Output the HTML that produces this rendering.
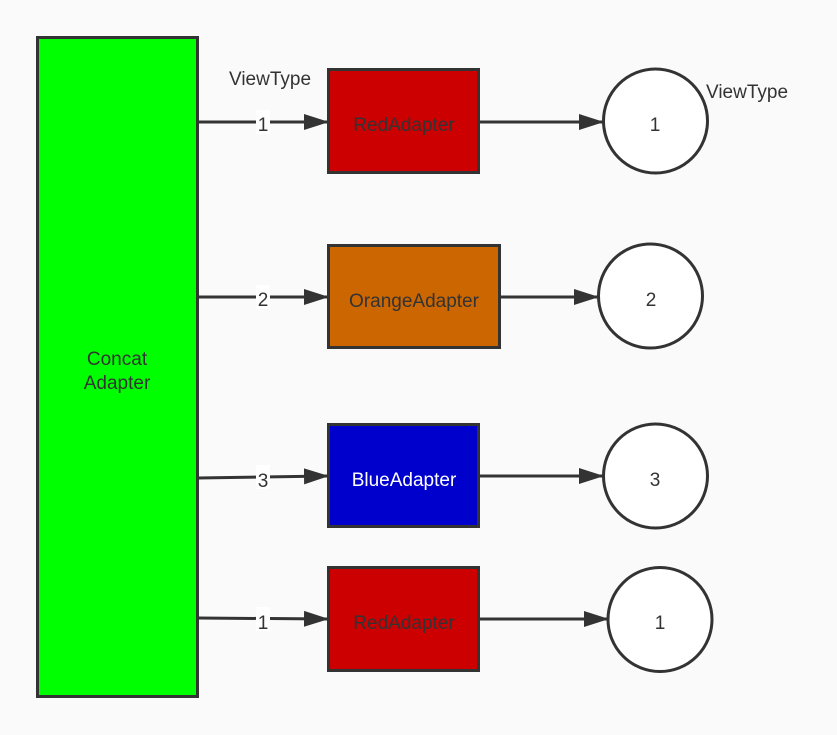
<!DOCTYPE html>
<html><head><meta charset="utf-8"><style>
html,body{margin:0;padding:0;background:#fafafa;}
svg{display:block;}
text{font-family:"Liberation Sans",sans-serif;font-size:19px;}
</style></head><body>
<svg width="837" height="735" viewBox="0 0 837 735">
<defs>
<marker id="a" markerWidth="26" markerHeight="18" refX="24" refY="9" orient="auto" markerUnits="userSpaceOnUse">
<path d="M0,1 L25,9 L0,17 Z" fill="#333"/>
</marker>
</defs>
<rect x="0" y="0" width="837" height="735" fill="#fafafa"/>
<rect x="37.5" y="37.5" width="160" height="659" fill="#00ff00" stroke="#333" stroke-width="3"/>
<text x="117" y="365" text-anchor="middle" fill="#333">Concat</text>
<text x="117" y="389" text-anchor="middle" fill="#333">Adapter</text>

<g stroke="#333" stroke-width="3" fill="none">
<line x1="198" y1="122" x2="328" y2="122" marker-end="url(#a)"/>
<line x1="198" y1="297" x2="328" y2="297" marker-end="url(#a)"/>
<line x1="198" y1="478" x2="328" y2="476" marker-end="url(#a)"/>
<line x1="198" y1="618" x2="328" y2="619" marker-end="url(#a)"/>
<line x1="479" y1="122" x2="603" y2="122" marker-end="url(#a)"/>
<line x1="500" y1="297" x2="598" y2="297" marker-end="url(#a)"/>
<line x1="479" y1="476" x2="603" y2="476" marker-end="url(#a)"/>
<line x1="479" y1="619" x2="608" y2="619" marker-end="url(#a)"/>
</g>

<rect x="256" y="110" width="14" height="24" fill="#fff"/>
<rect x="256" y="285" width="14" height="24" fill="#fff"/>
<rect x="256" y="465" width="14" height="24" fill="#fff"/>
<rect x="256" y="607" width="14" height="24" fill="#fff"/>
<text x="263" y="131" text-anchor="middle" fill="#333">1</text>
<text x="263" y="306" text-anchor="middle" fill="#333">2</text>
<text x="263" y="487" text-anchor="middle" fill="#333">3</text>
<text x="263" y="629" text-anchor="middle" fill="#333">1</text>

<text x="229" y="85" fill="#333">ViewType</text>
<text x="706" y="98" fill="#333">ViewType</text>

<g stroke="#333" stroke-width="3">
<rect x="328.5" y="69.5" width="150" height="103" fill="#cc0000"/>
<rect x="328.5" y="245.5" width="171" height="102" fill="#cc6600"/>
<rect x="328.5" y="424.5" width="150" height="102" fill="#0000cc"/>
<rect x="328.5" y="567.5" width="150" height="103" fill="#cc0000"/>
<circle cx="655.5" cy="121" r="52" fill="#fff"/>
<circle cx="650.5" cy="296" r="52" fill="#fff"/>
<circle cx="655.5" cy="476" r="52" fill="#fff"/>
<circle cx="660" cy="619.5" r="52" fill="#fff"/>
</g>
<text x="404" y="131" text-anchor="middle" fill="#333">RedAdapter</text>
<text x="414" y="307" text-anchor="middle" fill="#333">OrangeAdapter</text>
<text x="404" y="486" text-anchor="middle" fill="#fff">BlueAdapter</text>
<text x="404" y="629" text-anchor="middle" fill="#333">RedAdapter</text>

<text x="655" y="131" text-anchor="middle" fill="#333">1</text>
<text x="651" y="306" text-anchor="middle" fill="#333">2</text>
<text x="655" y="486" text-anchor="middle" fill="#333">3</text>
<text x="660" y="629" text-anchor="middle" fill="#333">1</text>
</svg>
</body></html>
